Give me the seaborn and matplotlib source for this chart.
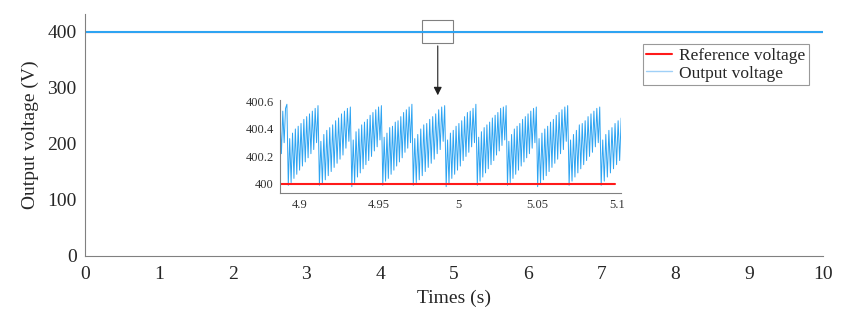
import numpy as np
import pandas as pd
import matplotlib
matplotlib.use("Agg")
import matplotlib.pyplot as plt
import matplotlib.patches as patches
import seaborn as sns

# main plot data (whole 0-10 s run, flat at 400 V at this scale)
main_time = [0, 10]
main_ref = [400, 400]
main_out = [400.3, 400.3]

# inset: zoom around t = 5 s
ref_time = [4.8878, 5.0985]
ref_volt = [400, 400]

lead_volt = [400.48, 400.22, 400.53, 400.30, 400.55, 400.58]
lead_span = [4.8878, 4.8930]

cycle_start = [4.8930, 4.9126, 4.9330, 4.9525, 4.9717, 4.9924,
               5.0120, 5.0310, 5.0500, 5.0698, 5.0900]
cycle_volt = [
    [399.99, 400.33, 400.01, 400.37, 400.04, 400.40, 400.07, 400.42, 400.10, 400.44, 400.13,
     400.47, 400.16, 400.49, 400.19, 400.51, 400.22, 400.53, 400.25, 400.55, 400.30, 400.57],
    [399.99, 400.31, 400.00, 400.36, 400.03, 400.39, 400.06, 400.41, 400.09, 400.43, 400.12,
     400.46, 400.15, 400.48, 400.18, 400.51, 400.21, 400.53, 400.26, 400.55, 400.31, 400.56],
    [399.98, 400.32, 400.01, 400.38, 400.05, 400.40, 400.08, 400.43, 400.11, 400.45, 400.14,
     400.47, 400.17, 400.50, 400.20, 400.52, 400.24, 400.54, 400.27, 400.56, 400.32, 400.57],
    [399.99, 400.34, 400.02, 400.37, 400.04, 400.41, 400.07, 400.42, 400.10, 400.45, 400.13,
     400.46, 400.16, 400.49, 400.19, 400.52, 400.23, 400.54, 400.26, 400.56, 400.30, 400.58],
    [399.99, 400.33, 400.01, 400.36, 400.03, 400.40, 400.06, 400.43, 400.09, 400.44, 400.12,
     400.47, 400.15, 400.49, 400.18, 400.51, 400.22, 400.54, 400.25, 400.56, 400.31, 400.57],
    [399.98, 400.32, 400.00, 400.37, 400.04, 400.39, 400.07, 400.42, 400.10, 400.44, 400.13,
     400.46, 400.17, 400.49, 400.20, 400.52, 400.23, 400.53, 400.27, 400.55, 400.30, 400.58],
    [399.99, 400.34, 400.02, 400.38, 400.05, 400.41, 400.08, 400.43, 400.11, 400.45, 400.14,
     400.48, 400.17, 400.50, 400.21, 400.52, 400.24, 400.55, 400.28, 400.56, 400.32, 400.57],
    [399.99, 400.31, 400.01, 400.36, 400.04, 400.40, 400.07, 400.42, 400.10, 400.44, 400.13,
     400.47, 400.16, 400.49, 400.19, 400.51, 400.22, 400.53, 400.26, 400.55, 400.30, 400.56],
    [399.98, 400.33, 400.00, 400.37, 400.03, 400.40, 400.06, 400.42, 400.09, 400.45, 400.12,
     400.47, 400.15, 400.50, 400.18, 400.52, 400.22, 400.54, 400.25, 400.56, 400.31, 400.57],
    [399.99, 400.32, 400.02, 400.36, 400.05, 400.39, 400.08, 400.43, 400.11, 400.44, 400.14,
     400.46, 400.17, 400.49, 400.20, 400.51, 400.23, 400.53, 400.27, 400.55, 400.30, 400.56],
]
tail_volt = [399.99, 400.32, 400.02, 400.36, 400.05, 400.39, 400.08,
             400.41, 400.11, 400.44, 400.14, 400.46, 400.17, 400.48]
tail_span = [5.0900, 5.1026]

# build the inset series
t_parts = [np.linspace(lead_span[0], lead_span[1], len(lead_volt), endpoint=False)]
v_parts = [lead_volt]
for i, vals in enumerate(cycle_volt):
    t_parts.append(np.linspace(cycle_start[i], cycle_start[i + 1], len(vals), endpoint=False))
    v_parts.append(vals)
t_parts.append(np.linspace(tail_span[0], tail_span[1], len(tail_volt)))
v_parts.append(tail_volt)
inset_df = pd.DataFrame({"t": np.concatenate(t_parts), "v": np.concatenate(v_parts)})

blue = "#2ea4f2"
red = "#ff1a1a"

sns.set_style("white")
plt.rcParams["font.family"] = ["Liberation Serif", "DejaVu Serif"]

fig = plt.figure(figsize=(8.64, 3.10), dpi=100)
ax = fig.add_axes([0.0984, 0.1742, 0.8541, 0.7806])

sns.lineplot(x=main_time, y=main_ref, ax=ax, color=red, linewidth=0.8, label="Reference voltage")
sns.lineplot(x=main_time, y=main_out, ax=ax, color=blue, linewidth=1.5, label="Output voltage")
ax.set_xlim(0, 10)
ax.set_ylim(0, 432)
ax.set_xticks(range(0, 11))
ax.set_yticks([0, 100, 200, 300, 400])
ax.set_xlabel("Times (s)", fontsize=14, labelpad=5)
ax.set_ylabel("Output voltage (V)", fontsize=14, labelpad=6)
ax.tick_params(direction="in", length=3, labelsize=14, color="#808080")
ax.tick_params(axis="x", pad=7)
ax.tick_params(axis="y", pad=6)
for s in ["top", "right"]:
    ax.spines[s].set_visible(False)
for s in ["left", "bottom"]:
    ax.spines[s].set_color("#808080")
    ax.spines[s].set_linewidth(0.8)

leg = ax.legend(loc="upper right", bbox_to_anchor=(0.936, 0.858), bbox_transform=fig.transFigure,
                fontsize=12.5, frameon=True, fancybox=False, handlelength=1.5,
                borderpad=0.2, labelspacing=0.1, handletextpad=0.4, borderaxespad=0)
leg.get_frame().set_edgecolor("#808080")
leg.get_frame().set_linewidth(0.8)
leg.get_lines()[0].set_linewidth(1.5)
leg.get_lines()[1].set_color("#9fd0f7")
leg.get_lines()[1].set_linewidth(1.0)

# zoom marker and arrow
ax.add_patch(patches.Rectangle((4.57, 380), 0.42, 41, fill=False, edgecolor="#808080", linewidth=0.8))
ax.annotate("", xy=(4.78, 282), xytext=(4.78, 380),
            arrowprops=dict(arrowstyle="-|>", color="#202020", lw=0.8, mutation_scale=12))

# inset
axin = fig.add_axes([0.3241, 0.3784, 0.3947, 0.2986])
sns.lineplot(data=inset_df, x="t", y="v", ax=axin, color=blue, linewidth=0.7, sort=False, estimator=None)
sns.lineplot(x=ref_time, y=ref_volt, ax=axin, color=red, linewidth=1.5)
axin.set_xlim(4.8878, 5.1025)
axin.set_ylim(399.936, 400.61)
axin.set_xticks([4.9, 4.95, 5.0, 5.05, 5.1])
axin.set_xticklabels(["4.9", "4.95", "5", "5.05", "5.1"])
axin.set_yticks([400, 400.2, 400.4, 400.6])
axin.set_yticklabels(["400", "400.2", "400.4", "400.6"])
axin.set_xlabel("")
axin.set_ylabel("")
axin.tick_params(direction="out", length=2.5, labelsize=9, color="#808080", labelcolor="#333333", pad=2)
for s in ["top", "right"]:
    axin.spines[s].set_visible(False)
for s in ["left", "bottom"]:
    axin.spines[s].set_color("#808080")
    axin.spines[s].set_linewidth(0.8)
axin.patch.set_alpha(0)

fig.savefig("out.png", dpi=100)
